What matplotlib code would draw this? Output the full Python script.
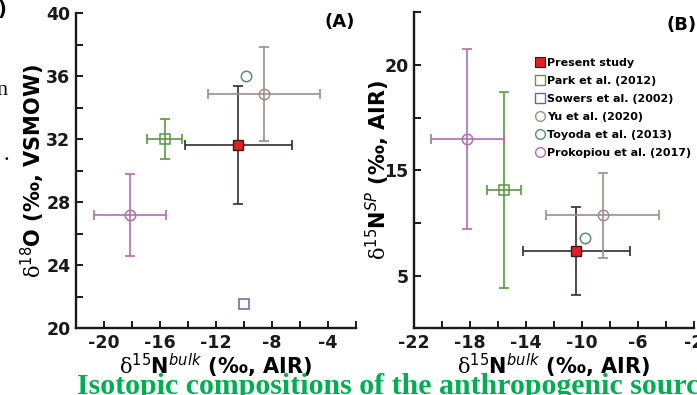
import matplotlib
matplotlib.use('Agg')
import matplotlib.pyplot as plt
from matplotlib.lines import Line2D

plt.rcParams['font.family'] = 'DejaVu Sans'
plt.rcParams['font.weight'] = 'bold'
plt.rcParams['mathtext.fontset'] = 'custom'
plt.rcParams['mathtext.rm'] = 'DejaVu Serif:weight=normal'
plt.rcParams['mathtext.sf'] = 'DejaVu Sans:weight=normal'
plt.rcParams['mathtext.it'] = 'DejaVu Sans:style=italic:weight=normal'
plt.rcParams['mathtext.bf'] = 'DejaVu Sans:weight=bold'

# sources
sources = ['Present study', 'Park et al. (2012)', 'Sowers et al. (2002)',
           'Yu et al. (2020)', 'Toyoda et al. (2013)', 'Prokopiou et al. (2017)']
colors = ['#3a2a2a', '#5a9a40', '#6464b4', '#a08e8a', '#5a8a84', '#b46cb4']
markers = ['s', 's', 's', 'o', 'o', 'o']

# panel A: d15N bulk vs d18O
a_n15 = [-10.4, -15.65, -9.97, -8.6, -9.83, -18.15]
a_n15_err = [3.8, 1.25, 0, 4.0, 0, 2.6]
a_o18 = [31.6, 32.0, 21.5, 34.86, 36.0, 27.2]
a_o18_err = [3.75, 1.3, 0, 3.0, 0, 2.6]

# panel B: d15N bulk vs d15N SP (no Sowers value)
b_n15 = [-10.4, -15.57, None, -8.52, -9.79, -18.2]
b_n15_err = [3.8, 1.2, None, 4.05, 0, 2.6]
b_sp = [7.34, 13.1, None, 10.72, 8.56, 17.97]
b_sp_err = [4.2, 9.3, None, 4.0, 0, 8.5]

fig = plt.figure(figsize=(6.97, 3.95), dpi=100)
axA = fig.add_axes([76/697, 67/395, 280/697, 315/395])
axB = fig.add_axes([414/697, 66.7/395, 280/697, 316/395])


def draw(ax, xs, xe, ys, ye):
    for i in range(len(sources)):
        if xs[i] is None:
            continue
        if xe[i] or ye[i]:
            ax.errorbar(xs[i], ys[i], xerr=xe[i], yerr=ye[i], fmt='none',
                        ecolor=colors[i], elinewidth=1.2, capsize=3.5,
                        capthick=1.2, zorder=2)
        if i == 0:
            ax.plot(xs[i], ys[i], 's', ms=7, mfc='#e41e26', mec='#3a1a1a',
                    mew=1.0, zorder=4)
        else:
            ax.plot(xs[i], ys[i], markers[i], ms=7.5, mfc='none',
                    mec=colors[i], mew=1.1, zorder=3)


def style(ax):
    for s in ['top', 'right']:
        ax.spines[s].set_visible(False)
    for s in ['left', 'bottom']:
        ax.spines[s].set_linewidth(1.7)
        ax.spines[s].set_color('#1a1a1a')
    ax.tick_params(direction='in', length=5, width=1.4, labelsize=12.5,
                   colors='#1a1a1a', pad=4)


draw(axA, a_n15, a_n15_err, a_o18, a_o18_err)
draw(axB, b_n15, b_n15_err, b_sp, b_sp_err)

xlab = r'$\mathrm{\delta}^{\mathsf{15}}\mathbf{N}^{\mathit{bulk}}$ (‰, AIR)'

axA.set_xlim(-22, -2)
axA.set_ylim(20, 40)
axA.set_xticks(range(-22, -1, 2))
axA.set_xticklabels(['', '-20', '', '-16', '', '-12', '', '-8', '', '-4', ''])
axA.set_yticks(range(20, 41, 2))
axA.set_yticklabels(['20', '', '24', '', '28', '', '32', '', '36', '', '40'])
style(axA)
axA.set_xlabel(xlab, fontsize=15, fontweight='bold', labelpad=0)
axA.set_ylabel(r'$\mathrm{\delta}^{\mathsf{18}}\mathbf{O}$ (‰, VSMOW)',
               fontsize=15, fontweight='bold')
axA.yaxis.set_label_coords(-0.105, 0.5)
axA.text(0.94, 0.97, '(A)', transform=axA.transAxes, fontsize=13,
         ha='center', va='center')

axB.set_xlim(-22, -2)
axB.set_ylim(0, 30)
axB.set_xticks(range(-22, -1, 2))
axB.set_xticklabels(['-22', '', '-18', '', '-14', '', '-10', '', '-6', '', '-2'])
axB.set_yticks(range(0, 31, 5))
axB.set_yticklabels(['', '5', '', '15', '', '20', ''])
style(axB)
axB.set_xlabel(xlab, fontsize=15, fontweight='bold', labelpad=0)
axB.set_ylabel(r'$\mathrm{\delta}^{\mathsf{15}}\mathbf{N}^{\mathit{SP}}$ (‰, AIR)',
               fontsize=15, fontweight='bold')
axB.yaxis.set_label_coords(-0.08, 0.5)
axB.text(0.955, 0.96, '(B)', transform=axB.transAxes, fontsize=13,
         ha='center', va='center')

handles = []
for i in range(len(sources)):
    if i == 0:
        h = Line2D([], [], ls='none', marker='s', ms=6.5, mfc='#e41e26',
                   mec='#3a1a1a', mew=0.8)
    else:
        h = Line2D([], [], ls='none', marker=markers[i], ms=7, mfc='none',
                   mec=colors[i], mew=1.0)
    handles.append(h)
axB.legend(handles, sources, loc='upper left', bbox_to_anchor=(536/697, 1 - 58/395),
           bbox_transform=fig.transFigure, frameon=False, fontsize=8,
           handlelength=0.7, handletextpad=0.3, labelspacing=0.72,
           borderpad=0, borderaxespad=0)

# surrounding page fragments
fig.text(77/697, 1.5/395, 'Isotopic compositions of the anthropogenic source',
         color='#00b050', family='Liberation Serif', fontsize=21.5,
         fontweight='bold', va='baseline')
fig.text(8/697, 1 - 95/395, 'n', family='Liberation Serif', fontweight='normal',
         fontsize=16, ha='right', va='baseline')
fig.text(9/697, 1 - 160/395, '.', family='Liberation Serif', fontweight='normal',
         fontsize=16, ha='right', va='baseline')
fig.text(6/697, 1.0, ')', fontsize=14, ha='right', va='top')

fig.savefig('out.png', dpi=100)
